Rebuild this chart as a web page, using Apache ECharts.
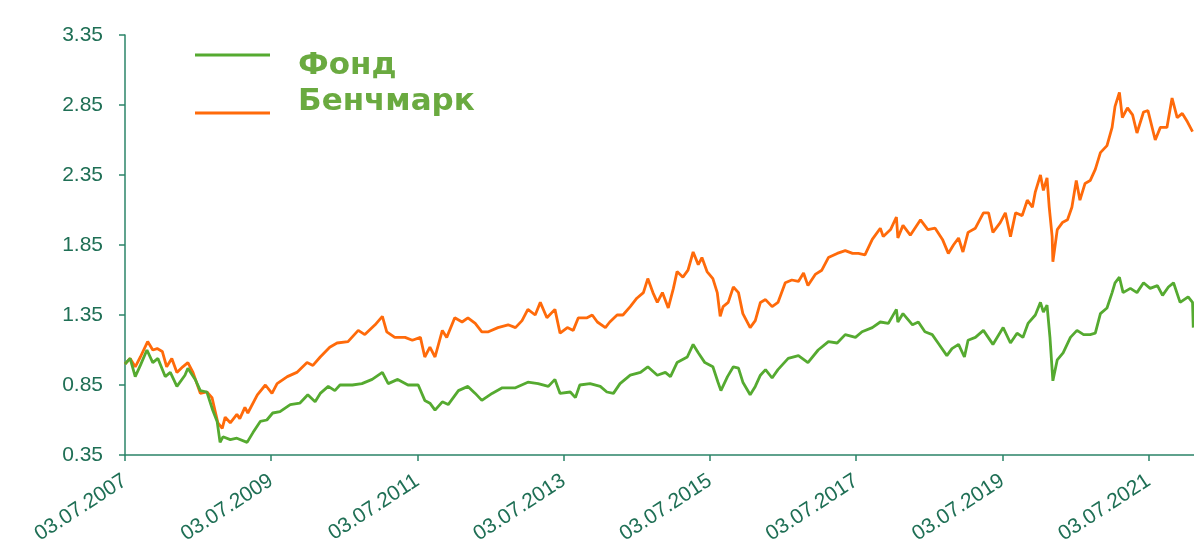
<!DOCTYPE html>
<html>
<head>
	<meta charset="utf-8">
	<title>Фонд и бенчмарк</title>
	<script src="https://cdn.jsdelivr.net/npm/echarts@6/dist/echarts.min.js"></script>
	<style>
		html, body { margin: 0; padding: 0; background: #fff; }
		#main { width: 1194px; height: 547px; }
	</style>
</head>
<body>
<div id="main"></div>
<script type="text/javascript">
// годы, прошедшие с 03.07.2007, и значения (старт = 1.00)
var fundYears = [0.00,0.07,0.14,0.21,0.30,0.38,0.45,0.55,0.62,0.71,0.82,0.86,0.96,1.03,1.12,1.20,1.26,1.30,1.34,1.44,1.53,1.67,1.75,1.85,1.94,2.02,2.12,2.26,2.39,2.50,2.60,2.67,2.78,2.87,2.94,3.11,3.24,3.38,3.52,3.60,3.73,3.87,4.01,4.10,4.17,4.24,4.34,4.42,4.56,4.69,4.79,4.88,5.02,5.16,5.34,5.51,5.65,5.79,5.88,5.95,6.09,6.16,6.22,6.36,6.50,6.59,6.68,6.77,6.91,7.05,7.15,7.28,7.39,7.46,7.55,7.69,7.77,7.84,7.93,8.04,8.11,8.15,8.24,8.32,8.39,8.45,8.55,8.62,8.69,8.76,8.85,8.93,9.07,9.21,9.34,9.48,9.62,9.74,9.85,9.99,10.08,10.22,10.33,10.44,10.55,10.57,10.64,10.77,10.85,10.94,11.04,11.12,11.24,11.31,11.40,11.48,11.53,11.63,11.74,11.87,12.01,12.11,12.20,12.28,12.35,12.45,12.52,12.56,12.61,12.65,12.69,12.75,12.83,12.93,13.02,13.11,13.20,13.27,13.34,13.43,13.50,13.54,13.60,13.65,13.75,13.84,13.93,14.02,14.12,14.19,14.27,14.34,14.43,14.54,14.60,14.61];
var fundValues = [1.00,1.04,0.91,0.99,1.10,1.01,1.04,0.91,0.94,0.84,0.92,0.97,0.89,0.81,0.80,0.67,0.59,0.44,0.48,0.46,0.47,0.44,0.51,0.59,0.60,0.65,0.66,0.71,0.72,0.78,0.73,0.79,0.84,0.81,0.85,0.85,0.86,0.89,0.94,0.86,0.89,0.85,0.85,0.74,0.72,0.67,0.73,0.71,0.81,0.84,0.79,0.74,0.79,0.83,0.83,0.87,0.86,0.84,0.89,0.79,0.80,0.76,0.85,0.86,0.84,0.80,0.79,0.86,0.92,0.94,0.98,0.92,0.94,0.91,1.01,1.05,1.14,1.08,1.01,0.98,0.87,0.81,0.91,0.98,0.97,0.87,0.78,0.84,0.92,0.96,0.90,0.96,1.04,1.06,1.01,1.10,1.16,1.15,1.21,1.19,1.23,1.26,1.30,1.29,1.39,1.30,1.36,1.28,1.30,1.23,1.21,1.15,1.06,1.11,1.14,1.05,1.17,1.19,1.24,1.14,1.26,1.15,1.22,1.19,1.29,1.35,1.44,1.37,1.42,1.19,0.88,1.03,1.08,1.19,1.24,1.21,1.21,1.22,1.36,1.40,1.51,1.58,1.62,1.51,1.54,1.51,1.58,1.54,1.56,1.49,1.55,1.58,1.44,1.48,1.44,1.26];

var benchYears = [0.00,0.07,0.14,0.21,0.31,0.38,0.44,0.51,0.57,0.64,0.71,0.79,0.86,0.93,1.03,1.12,1.19,1.23,1.27,1.33,1.37,1.44,1.53,1.57,1.64,1.68,1.81,1.92,2.01,2.08,2.22,2.35,2.49,2.57,2.67,2.80,2.90,3.05,3.19,3.28,3.42,3.52,3.58,3.69,3.83,3.93,4.04,4.10,4.17,4.24,4.34,4.40,4.51,4.61,4.69,4.79,4.88,4.97,5.10,5.24,5.34,5.43,5.51,5.61,5.68,5.77,5.88,5.95,6.05,6.13,6.20,6.32,6.39,6.46,6.57,6.63,6.73,6.81,6.91,7.00,7.09,7.15,7.22,7.28,7.35,7.43,7.50,7.55,7.63,7.70,7.77,7.84,7.89,7.96,8.04,8.10,8.14,8.18,8.25,8.32,8.39,8.45,8.55,8.62,8.69,8.76,8.85,8.93,9.03,9.12,9.21,9.28,9.34,9.44,9.53,9.62,9.74,9.85,9.95,10.03,10.12,10.22,10.33,10.37,10.47,10.55,10.57,10.64,10.74,10.88,10.98,11.08,11.18,11.26,11.33,11.40,11.46,11.53,11.63,11.74,11.81,11.87,11.97,12.04,12.11,12.18,12.27,12.34,12.41,12.45,12.52,12.56,12.61,12.64,12.68,12.69,12.75,12.82,12.89,12.95,13.01,13.06,13.13,13.20,13.27,13.34,13.43,13.50,13.54,13.60,13.64,13.71,13.78,13.84,13.93,13.99,14.09,14.16,14.25,14.32,14.39,14.46,14.53,14.60];
var benchValues = [1.00,1.04,0.98,1.05,1.16,1.10,1.11,1.09,0.98,1.04,0.94,0.98,1.01,0.94,0.79,0.80,0.76,0.67,0.58,0.54,0.62,0.58,0.64,0.61,0.69,0.65,0.78,0.85,0.79,0.86,0.91,0.94,1.01,0.99,1.05,1.12,1.15,1.16,1.24,1.21,1.28,1.34,1.23,1.19,1.19,1.17,1.19,1.05,1.12,1.05,1.24,1.19,1.33,1.30,1.33,1.29,1.23,1.23,1.26,1.28,1.26,1.31,1.39,1.35,1.44,1.33,1.39,1.22,1.26,1.24,1.33,1.33,1.35,1.30,1.26,1.30,1.35,1.35,1.41,1.47,1.51,1.61,1.51,1.44,1.51,1.40,1.54,1.66,1.62,1.67,1.80,1.71,1.76,1.66,1.61,1.51,1.34,1.41,1.44,1.55,1.51,1.36,1.26,1.31,1.44,1.46,1.41,1.44,1.58,1.60,1.59,1.65,1.56,1.64,1.67,1.76,1.79,1.81,1.79,1.79,1.78,1.89,1.97,1.91,1.96,2.05,1.90,1.99,1.92,2.03,1.96,1.97,1.89,1.79,1.85,1.90,1.80,1.94,1.97,2.08,2.08,1.94,2.01,2.08,1.91,2.08,2.06,2.17,2.12,2.23,2.35,2.24,2.33,2.12,1.91,1.73,1.96,2.01,2.03,2.12,2.31,2.17,2.29,2.31,2.39,2.51,2.56,2.69,2.84,2.94,2.76,2.83,2.78,2.65,2.80,2.81,2.60,2.69,2.69,2.90,2.76,2.79,2.73,2.66];

var yTicks = [0.35, 0.85, 1.35, 1.85, 2.35, 2.85, 3.35];
var startYear = 2007;

function pairs(xs, ys) {
	var out = [];
	for (var i = 0; i < xs.length; i++) out.push([xs[i], ys[i]]);
	return out;
}

var axisColor = '#2b8468';
var labelColor = '#1f6f55';
var fundColor = '#55aa30';
var benchColor = '#ff6a0a';

// подпись легенды
var legendText = {
	fontFamily: 'DejaVu Sans',
	fontWeight: 'bold',
	fontSize: 31,
	lineHeight: 34,
	color: '#6aaa40',
	padding: [0, 0, 0, 23]
};
// линия легенды: у фонда над серединой текста, у бенчмарка под ней
var iconFund = 'path://M0,0L75,0L75,3L0,3Z M0,25L0.01,25Z';
var iconBench = 'path://M0,0L0.01,0Z M0,22L75,22L75,25L0,25Z';

var myChart = echarts.init(document.getElementById('main'));
var option = {
	animation: false,
	grid: { left: 125, right: 0, top: 35, bottom: 92 },
	legend: [
		{
			data: [{ name: 'Фонд', icon: iconFund }],
			left: 195,
			top: 49,
			padding: 0,
			itemWidth: 75,
			itemHeight: 25,
			textStyle: legendText
		},
		{
			data: [{ name: 'Бенчмарк', icon: iconBench }],
			left: 195,
			top: 85,
			padding: 0,
			itemWidth: 75,
			itemHeight: 25,
			textStyle: legendText
		}
	],
	xAxis: {
		type: 'value',
		min: 0,
		max: 14.62,
		interval: 2,
		splitLine: { show: false },
		axisLine: { lineStyle: { color: axisColor, width: 1.5 } },
		axisTick: { show: true, length: 6, lineStyle: { color: axisColor, width: 1.5 } },
		axisLabel: {
			rotate: 33,
			margin: 24,
			fontFamily: 'Liberation Sans',
			fontSize: 21,
			color: labelColor,
			showMaxLabel: false,
			formatter: function (v) { return '03.07.' + (startYear + Math.round(v)); }
		}
	},
	yAxis: {
		type: 'value',
		min: 0.35,
		max: 3.35,
		splitLine: { show: false },
		axisLine: { show: true, lineStyle: { color: axisColor, width: 1.5 } },
		axisTick: { show: true, length: 6, customValues: yTicks, lineStyle: { color: axisColor, width: 1.5 } },
		axisLabel: {
			customValues: yTicks,
			margin: 22,
			fontFamily: 'Liberation Sans',
			fontSize: 21,
			color: labelColor,
			formatter: function (v) { return v.toFixed(2); }
		}
	},
	series: [
		{
			name: 'Бенчмарк',
			type: 'line',
			showSymbol: false,
			data: pairs(benchYears, benchValues),
			itemStyle: { color: benchColor },
			lineStyle: { color: benchColor, width: 2.8 }
		},
		{
			name: 'Фонд',
			type: 'line',
			showSymbol: false,
			data: pairs(fundYears, fundValues),
			itemStyle: { color: fundColor },
			lineStyle: { color: fundColor, width: 2.8 }
		}
	]
};
myChart.setOption(option);
</script>
</body>
</html>
